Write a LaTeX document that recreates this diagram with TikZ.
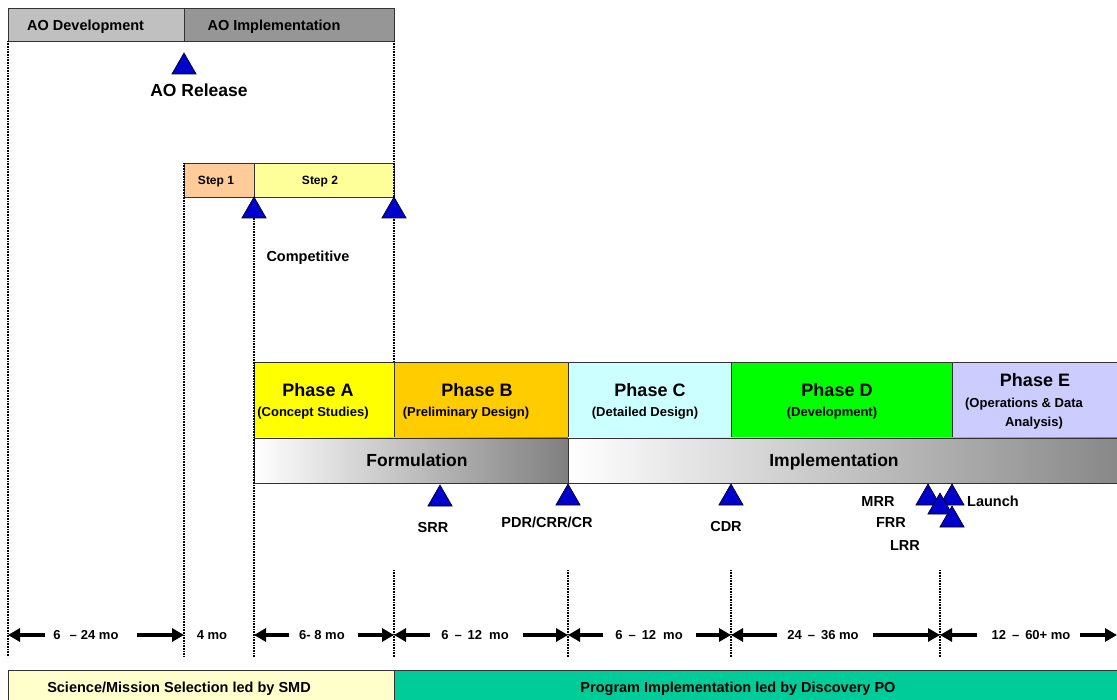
\documentclass[tikz,border=0pt]{standalone}
\usepackage{fontspec}
\setmainfont{Liberation Sans}
\usetikzlibrary{shapes.geometric,arrows.meta}
\definecolor{aodev}{HTML}{C0C0C0}
\definecolor{aoimp}{HTML}{969696}
\definecolor{stepone}{HTML}{FFCC99}
\definecolor{steptwo}{HTML}{FFFF99}
\definecolor{pha}{HTML}{FFFF00}
\definecolor{phb}{HTML}{FFCC00}
\definecolor{phc}{HTML}{CCFFFF}
\definecolor{phd}{HTML}{00FF00}
\definecolor{phe}{HTML}{CCCCFF}
\definecolor{selbar}{HTML}{FFFFCC}
\definecolor{impbar}{HTML}{00CC99}
\definecolor{msblue}{HTML}{0000CC}
\newcommand\myfs[1]{\fontsize{#1}{#1}\selectfont\bfseries}
\begin{document}
\begin{tikzpicture}[x=1pt,y=-1pt,
  box/.style={draw=black!80, line width=0.8pt},
  gridline/.style={line width=1.7pt, dash pattern=on 1pt off 0.6pt},
  milestone/.style={regular polygon, regular polygon sides=3, fill=msblue, draw=black, line width=0.6pt, minimum size=28pt, inner sep=0pt, outer sep=0pt, anchor=corner 1},
  txt/.style={inner sep=0pt, text depth=0pt},
  lbl/.style={txt, font=\myfs{14.5}, text height=10.4pt},
  big/.style={txt, font=\myfs{18}, text height=13pt},
  mid/.style={txt, font=\myfs{17.5}, text height=12.6pt},
  sub/.style={txt, font=\myfs{13}, text height=9.4pt},
  small/.style={txt, font=\myfs{12}, text height=8.6pt},
  dur/.style={txt, font=\myfs{13}, text height=9.4pt},
  durarrow/.style={line width=3.6pt, -{Triangle[length=12pt,width=13pt]}},
]
\useasboundingbox[fill=white] (0,0) rectangle (1117,700);

% grid line coordinates
\foreach \n/\x in {g0/8,g1/184,g2/254,g3/394,g4/568,g5/731,g6/940,g7/1117}{
  \coordinate (\n) at (\x,635);
}

% ---- top bar
\draw[box, fill=aodev] (8,8) rectangle (184,41);
\draw[box, fill=aoimp] (184,8) rectangle (394,41);
\node[lbl, anchor=west] (aodev) at (27,25) {AO Development};
\node[lbl] (aoimp) at (274,25) {AO Implementation};

% ---- step boxes
\draw[box, fill=stepone] (184,163) rectangle (254,197);
\draw[box, fill=steptwo] (254,163) rectangle (394,197);
\node[small] (step1) at (216,180) {Step 1};
\node[small] (step2) at (320,180) {Step 2};

% ---- phase boxes
\draw[box, fill=pha] (254,362) rectangle (394,438);
\draw[box, fill=phb] (394,362) rectangle (568,438);
\draw[box, fill=phc] (568,362) rectangle (731,438);
\draw[box, fill=phd] (731,362) rectangle (952,438);
\draw[box, fill=phe] (952,362) rectangle (1122,438);
\node[big] (pa) at (318,390) {Phase A};
\node[sub] (pas) at (313,412) {(Concept Studies)};
\node[big] (pb) at (477,390) {Phase B};
\node[sub] (pbs) at (466,412) {(Preliminary Design)};
\node[big] (pc) at (650,390) {Phase C};
\node[sub] (pcs) at (645,412) {(Detailed Design)};
\node[big] (pd) at (837,390) {Phase D};
\node[sub] (pds) at (832,412) {(Development)};
\node[big] (pe) at (1035,380) {Phase E};
\node[sub] (pes1) at (1024,403) {(Operations \& Data};
\node[sub] (pes2) at (1034,422) {Analysis)};

% ---- formulation / implementation bars
\shade[left color=white, right color=black!50, draw=black!80, line width=0.8pt] (254,438) rectangle (568,483);
\shade[left color=white, right color=black!47, draw=black!80, line width=0.8pt] (568,438) rectangle (1122,483);
\node[mid] (form) at (417,460) {Formulation};
\node[mid] (impl) at (834,460) {Implementation};

% ---- bottom bars
\draw[box, fill=selbar] (8,670) rectangle (394,705);
\draw[box, fill=impbar] (394,670) rectangle (1122,705);
\node[lbl] (sel) at (179,687) {Science/Mission Selection led by SMD};
\node[lbl] (prog) at (738,687) {Program Implementation led by Discovery PO};

% ---- dotted grid lines
\draw[gridline] (8,41) -- (8,657);
\draw[gridline] (184,163) -- (184,657);
\draw[gridline] (254,197) -- (254,657);
\draw[gridline] (394,41) -- (394,362);
\foreach \x in {394,568,731,940}{
  \draw[gridline] (\x,570) -- (\x,657);
}

% ---- milestones
\node[milestone] (aorel) at (184,53) {};
\node[mid] (aorell) at (199,90) {AO Release};
\node[milestone] (stp1) at (254,197) {};
\node[milestone] (stp2) at (394,197) {};
\node[lbl] (comp) at (308,256) {Competitive};

\node[milestone] (srr) at (440,485) {};
\node[lbl] (srrl) at (433,527) {SRR};
\node[milestone] (pdr) at (568,484) {};
\node[lbl] (pdrl) at (547,522) {PDR/CRR/CR};
\node[milestone] (cdr) at (731,484) {};
\node[lbl] (cdrl) at (726,526) {CDR};
\node[milestone] (mrr) at (928,484) {};
\node[milestone] (lau) at (952,484) {};
\node[milestone] (frr) at (940,493) {};
\node[milestone] (lrr) at (952,506) {};
\node[lbl] (mrrl) at (878,501) {MRR};
\node[lbl] (frrl) at (891,522) {FRR};
\node[lbl] (lrrl) at (905,545) {LRR};
\node[lbl, anchor=west] (laul) at (967,501) {Launch};

% ---- durations
\node[dur] (d1) at (86,635) {6\hspace{9pt}–\hspace{4pt}24 mo};
\node[dur] (d2) at (212,635) {4 mo};
\node[dur] (d3) at (322,635) {6- 8 mo};
\node[dur] (d4) at (475,635) {6\hspace{6pt}–\hspace{6pt}12\hspace{7pt}mo};
\node[dur] (d5) at (649,635) {6\hspace{6pt}–\hspace{6pt}12\hspace{7pt}mo};
\node[dur] (d6) at (823,635) {24\hspace{6pt}–\hspace{6pt}36 mo};
\node[dur] (d7) at (1031,635) {12\hspace{6pt}–\hspace{6pt}60+ mo};

\foreach \n/\lt/\rt/\a/\b in {1/45/137/g0/g1, 3/289/358/g2/g3, 4/430/523/g3/g4, 5/603/696/g4/g5, 6/777/873/g5/g6, 7/977/1080/g6/g7}{
  \coordinate (l\n) at (\lt,635);
  \coordinate (r\n) at (\rt,635);
  \draw[durarrow] (l\n) -- (\a);
  \draw[durarrow] (r\n) -- (\b);
}
\end{tikzpicture}
\end{document}
